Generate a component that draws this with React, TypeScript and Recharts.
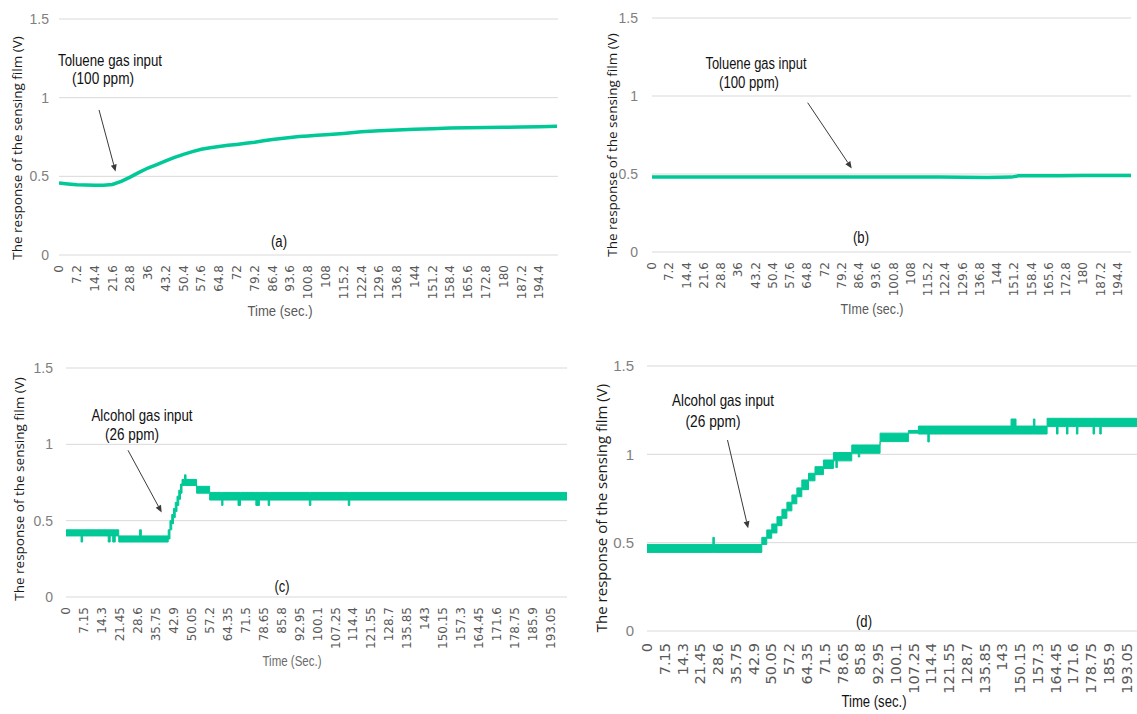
import React from "react";
import {
  ComposedChart,
  Line,
  Area,
  XAxis,
  YAxis,
  CartesianGrid,
  ReferenceLine,
} from "recharts";

const LINE_COLOR = "#00c896";
const GRID_COLOR = "#d9d9d9";
const ANNOT_FONT = "'Liberation Sans', Arial, sans-serif";

// ---------- shared y axis ----------
const yTicks = [0, 0.5, 1, 1.5];

// ---------- panel (a): toluene, sensing film A ----------
const aTickLabels = [
  "0", "7.2", "14.4", "21.6", "28.8", "36", "43.2", "50.4", "57.6", "64.8",
  "72", "79.2", "86.4", "93.6", "100.8", "108", "115.2", "122.4", "129.6", "136.8",
  "144", "151.2", "158.4", "165.6", "172.8", "180", "187.2", "194.4",
];
const aTime = [
  0, 3.6, 7.2, 10.8, 14.4, 18, 21.6, 25.2, 28.8, 32.4, 36, 39.6, 43.2, 46.8, 50.4,
  54, 57.6, 61.2, 64.8, 68.4, 72, 75.6, 79.2, 82.8, 86.4, 90, 93.6, 97.2, 100.8,
  104.4, 108, 115.2, 122.4, 129.6, 136.8, 144, 151.2, 158.4, 165.6, 172.8, 180,
  187.2, 194.4, 201.6,
];
const aValue = [
  0.458, 0.452, 0.447, 0.445, 0.444, 0.443, 0.448, 0.468, 0.495, 0.525, 0.553,
  0.575, 0.598, 0.62, 0.64, 0.657, 0.672, 0.682, 0.69, 0.697, 0.703, 0.71, 0.717,
  0.726, 0.734, 0.741, 0.747, 0.753, 0.757, 0.761, 0.765, 0.773, 0.783, 0.789,
  0.794, 0.799, 0.803, 0.807, 0.809, 0.811, 0.812, 0.814, 0.815, 0.818,
];

// ---------- panel (b): toluene, sensing film B ----------
const bTime = [0, 20, 40, 60, 80, 100, 120, 130, 140, 150, 153, 160, 170, 180, 190, 200];
const bValue = [
  0.481, 0.481, 0.481, 0.481, 0.481, 0.481, 0.48, 0.479, 0.478, 0.48, 0.488,
  0.488, 0.489, 0.49, 0.49, 0.491,
];

// ---------- panel (c): alcohol, sensing film A ----------
const cdTickLabels = [
  "0", "7.15", "14.3", "21.45", "28.6", "35.75", "42.9", "50.05", "57.2", "64.35",
  "71.5", "78.65", "85.8", "92.95", "100.1", "107.25", "114.4", "121.55", "128.7",
  "135.85", "143", "150.15", "157.3", "164.45", "171.6", "178.75", "185.9", "193.05",
];
const cTime = [
  0, 6, 6.6, 16.8, 17.6, 18.6, 19.6, 21, 29.3, 30, 40.7, 41.4, 42.1, 42.8, 43.5,
  44.2, 44.9, 45.6, 46.2, 47.2, 47.8, 52, 57.2, 62, 62.5, 68.5, 69.5, 75.6, 77,
  80.5, 81.1, 96.9, 97.5, 112.4, 113, 199.5,
];
const cLow = [
  0.4, 0.36, 0.4, 0.36, 0.4, 0.36, 0.4, 0.36, 0.36, 0.36, 0.38, 0.44, 0.48, 0.52,
  0.56, 0.6, 0.64, 0.68, 0.73, 0.73, 0.73, 0.68, 0.635, 0.6, 0.635, 0.6, 0.635,
  0.6, 0.635, 0.6, 0.635, 0.6, 0.635, 0.6, 0.635, 0.635,
];
const cHigh = [
  0.44, 0.44, 0.44, 0.44, 0.44, 0.44, 0.44, 0.4, 0.44, 0.4, 0.44, 0.5, 0.54, 0.58,
  0.62, 0.66, 0.7, 0.74, 0.77, 0.8, 0.77, 0.725, 0.685, 0.685, 0.685, 0.685, 0.685,
  0.685, 0.685, 0.685, 0.685, 0.685, 0.685, 0.685, 0.685, 0.685,
];

// ---------- panel (d): alcohol, sensing film B ----------
const dTime = [
  0, 26.5, 27.1, 46.2, 48.2, 50.2, 52.3, 54.3, 56.3, 58.3, 60.3, 62.3, 65, 67.6,
  71, 75, 76, 76.6, 82.4, 85, 85.6, 93.8, 105.2, 109.2, 113, 113.6, 146.5, 148.5,
  155.5, 156.1, 161, 164.8, 165.4, 168.8, 169.4, 172.8, 173.4, 179.5, 180.1, 182.2,
  182.8, 200,
];
const dLow = [
  0.445, 0.445, 0.445, 0.49, 0.525, 0.555, 0.596, 0.638, 0.68, 0.72, 0.76, 0.8,
  0.85, 0.885, 0.92, 0.963, 0.925, 0.963, 1.006, 0.985, 1.006, 1.072, 1.12, 1.115,
  1.07, 1.115, 1.115, 1.115, 1.115, 1.115, 1.157, 1.115, 1.157, 1.115, 1.157,
  1.115, 1.157, 1.115, 1.157, 1.115, 1.157, 1.157,
];
const dHigh = [
  0.49, 0.53, 0.49, 0.53, 0.572, 0.606, 0.647, 0.689, 0.729, 0.77, 0.81, 0.855,
  0.893, 0.93, 0.968, 1.01, 1.01, 1.01, 1.053, 1.053, 1.053, 1.12, 1.135, 1.16,
  1.16, 1.16, 1.2, 1.16, 1.2, 1.16, 1.204, 1.204, 1.204, 1.204, 1.204, 1.204,
  1.204, 1.204, 1.204, 1.204, 1.204, 1.204,
];

const aData = aTime.map((t, i) => ({ t, v: aValue[i] }));
const bData = bTime.map((t, i) => ({ t, v: bValue[i] }));
const cData = cTime.map((t, i) => ({ t, lo: cLow[i], hi: cHigh[i] }));
const dData = dTime.map((t, i) => ({ t, lo: dLow[i], hi: dHigh[i] }));

const ArrowShape = (props: any) => {
  const { x1, y1, x2, y2 } = props;
  if ([x1, y1, x2, y2].some((n) => typeof n !== "number" || isNaN(n))) return <g />;
  const ang = Math.atan2(y2 - y1, x2 - x1);
  const L = 7;
  const W = 3;
  const bx = x2 - L * Math.cos(ang);
  const by = y2 - L * Math.sin(ang);
  const px = -Math.sin(ang) * W;
  const py = Math.cos(ang) * W;
  return (
    <g>
      <line x1={x1} y1={y1} x2={bx} y2={by} stroke="#3a3a3a" strokeWidth={1} />
      <polygon points={`${x2},${y2} ${bx + px},${by + py} ${bx - px},${by - py}`} fill="#3a3a3a" />
    </g>
  );
};

const makeXTick = (fontSize: number, offset: number) => (props: any) => {
  const { x, y, payload } = props;
  const ty = y + offset;
  return (
    <text
      x={x}
      y={ty}
      transform={`rotate(-90 ${x} ${ty})`}
      textAnchor="end"
      dy="0.35em"
      fontSize={fontSize}
      fontFamily="'DejaVu Sans', sans-serif"
      fill="#595959"
    >
      {String(payload.value)}
    </text>
  );
};

type PanelProps = {
  left: number;
  top: number;
  width: number;
  height: number;
  margin: { top: number; right: number; bottom: number; left: number };
  xAxisHeight: number;
  domainMax: number;
  tickLabels: string[];
  xTickFont: number;
  xTickOffset: number;
  yTickFont: number;
  yTickMargin: number;
  data: any[];
  kind: "line" | "band";
  arrow: { x: number; y: number }[];
};

const Panel = (p: PanelProps) => (
  <div style={{ position: "absolute", left: p.left, top: p.top }}>
    <ComposedChart width={p.width} height={p.height} data={p.data} margin={p.margin}>
      <CartesianGrid vertical={false} stroke={GRID_COLOR} strokeWidth={1} />
      <XAxis
        dataKey="t"
        type="number"
        domain={[0, p.domainMax]}
        ticks={p.tickLabels.map(Number)}
        interval={0}
        allowDataOverflow
        axisLine={false}
        tickLine={false}
        tickSize={0}
        tickMargin={0}
        height={p.xAxisHeight}
        tick={makeXTick(p.xTickFont, p.xTickOffset)}
      />
      <YAxis
        type="number"
        domain={[0, 1.5]}
        ticks={yTicks}
        interval={0}
        width={40}
        axisLine={false}
        tickLine={false}
        tickSize={0}
        tickMargin={p.yTickMargin}
        tick={{ fontSize: p.yTickFont, fill: "#7f7f7f", fontFamily: "'Liberation Sans', sans-serif" }}
      />
      {p.kind === "line" ? (
        <Line
          type="linear"
          dataKey="v"
          stroke={LINE_COLOR}
          strokeWidth={3.5}
          dot={false}
          activeDot={false}
          isAnimationActive={false}
        />
      ) : (
        <Area
          type="stepAfter"
          dataKey={(d: any) => [d.lo, d.hi]}
          stroke={LINE_COLOR}
          strokeWidth={1}
          fill={LINE_COLOR}
          fillOpacity={1}
          dot={false}
          activeDot={false}
          isAnimationActive={false}
        />
      )}
      <ReferenceLine segment={p.arrow} shape={ArrowShape} ifOverflow="visible" />
    </ComposedChart>
  </div>
);

// narrow annotation text: Liberation Sans compressed to the measured width
const T = ({ w, size = 16, fill = "#111", children, ...rest }: any) => (
  <text
    fontFamily={ANNOT_FONT}
    fontSize={size}
    fill={fill}
    textAnchor="middle"
    dominantBaseline="middle"
    textLength={w}
    lengthAdjust={w ? "spacingAndGlyphs" : undefined}
    {...rest}
  >
    {children}
  </text>
);

const YTitle = ({ x, y, size }: { x: number; y: number; size: number }) => (
  <text
    x={x}
    y={y}
    transform={`rotate(-90 ${x} ${y})`}
    textAnchor="middle"
    dominantBaseline="middle"
    fontFamily="'Open Sans', sans-serif"
    fontSize={size}
    fill="#1a1a1a"
  >
    The response of the sensing film (V)
  </text>
);

export default function App() {
  return (
    <div
      style={{
        position: "absolute",
        left: 0,
        top: 0,
        width: 1137,
        height: 714,
        overflow: "hidden",
        background: "#fff",
      }}
    >
      <Panel
        left={0}
        top={0}
        width={570}
        height={330}
        margin={{ top: 19, right: 12, bottom: 0, left: 19 }}
        xAxisHeight={75}
        domainMax={202}
        tickLabels={aTickLabels}
        xTickFont={12}
        xTickOffset={10}
        yTickFont={14}
        yTickMargin={10}
        data={aData}
        kind="line"
        arrow={[{ x: 16.2, y: 0.922 }, { x: 22.9, y: 0.53 }]}
      />
      <Panel
        left={570}
        top={0}
        width={567}
        height={330}
        margin={{ top: 18, right: 6, bottom: 0, left: 42 }}
        xAxisHeight={78}
        domainMax={200}
        tickLabels={aTickLabels}
        xTickFont={12}
        xTickOffset={10}
        yTickFont={14}
        yTickMargin={14}
        data={bData}
        kind="line"
        arrow={[{ x: 65.0, y: 0.957 }, { x: 83.4, y: 0.536 }]}
      />
      <Panel
        left={0}
        top={330}
        width={570}
        height={384}
        margin={{ top: 38, right: 3, bottom: 37, left: 26 }}
        xAxisHeight={80}
        domainMax={199.5}
        tickLabels={cdTickLabels}
        xTickFont={12}
        xTickOffset={10}
        yTickFont={14}
        yTickMargin={13}
        data={cData}
        kind="band"
        arrow={[{ x: 24.7, y: 0.961 }, { x: 38.1, y: 0.554 }]}
      />
      <Panel
        left={570}
        top={330}
        width={580}
        height={384}
        margin={{ top: 36, right: 6, bottom: 0, left: 37 }}
        xAxisHeight={83}
        domainMax={200}
        tickLabels={cdTickLabels}
        xTickFont={14.5}
        xTickOffset={12}
        yTickFont={15}
        yTickMargin={13}
        data={dData}
        kind="band"
        arrow={[{ x: 32.4, y: 1.081 }, { x: 40.7, y: 0.581 }]}
      />
      <svg
        width={1137}
        height={714}
        style={{ position: "absolute", left: 0, top: 0, pointerEvents: "none" }}
      >
        {/* panel (a) */}
        <YTitle x={18} y={148} size={13.5} />
        <T x={110} y={62} w={104}>Toluene gas input</T>
        <T x={103} y={80} w={62}>(100 ppm)</T>
        <T x={279} y={243} w={16}>(a)</T>
        <T x={280} y={312} w={65} size={15.5} fill="#595959">Time (sec.)</T>
        {/* panel (b) */}
        <YTitle x={613} y={145} size={13.5} />
        <T x={756} y={65} w={101}>Toluene gas input</T>
        <T x={749} y={84} w={60}>(100 ppm)</T>
        <T x={861} y={239} w={16}>(b)</T>
        <T x={872} y={310} w={63} size={15.5} fill="#595959">TIme (sec.)</T>
        {/* panel (c) */}
        <YTitle x={20} y={489} size={13.5} />
        <T x={142} y={417} w={101}>Alcohol gas input</T>
        <T x={132} y={436} w={54}>(26 ppm)</T>
        <T x={282} y={588} w={15}>(c)</T>
        <T x={292} y={662} w={59} size={15.5} fill="#6b6b6b">Time (Sec.)</T>
        {/* panel (d) */}
        <YTitle x={603} y={508} size={15} />
        <T x={723} y={402} w={102} size={16.5}>Alcohol gas input</T>
        <T x={713} y={423} w={55} size={16.5}>(26 ppm)</T>
        <T x={864} y={623} w={16} size={16.5}>(d)</T>
        <T x={874} y={703} w={65} size={16}>Time (sec.)</T>
      </svg>
    </div>
  );
}
